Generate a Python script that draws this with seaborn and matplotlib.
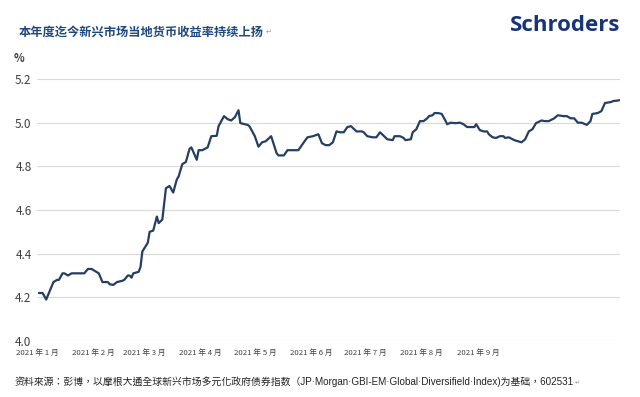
import numpy as np
import pandas as pd
import matplotlib
matplotlib.use("Agg")
import matplotlib.pyplot as plt
import seaborn as sns

# days since 2021-01-01 and local-currency EM yield (%)
day_offset = [1, 3, 5, 6, 9, 11, 12, 14, 15, 17, 19, 23, 24, 26, 28, 30, 32, 34, 36, 39,
              40, 42, 44, 47, 48, 50, 51, 52, 53, 56, 57, 58, 61, 62, 64, 66, 67, 69, 71, 73,
              75, 77, 78, 80, 82, 84, 85, 88, 89, 91, 94, 96, 99, 100, 103, 105, 107, 109, 111, 112,
              116, 117, 120, 122, 124, 126, 129, 132, 133, 136, 138, 140, 144, 147, 149, 152, 155, 157, 159, 161,
              163, 165, 167, 169, 171, 173, 176, 179, 180, 182, 185, 187, 189, 191, 193, 196, 197, 200, 202, 203,
              206, 207, 209, 211, 213, 215, 216, 218, 219, 221, 223, 224, 225, 226, 228, 230, 231, 233, 235, 237,
              240, 241, 242, 244, 246, 248, 249, 251, 253, 255, 257, 258, 260, 262, 263, 265, 267, 269, 271, 273,
              275, 278, 280, 282, 284, 285, 287, 290, 292, 294, 296, 298, 300, 302, 303, 305, 306, 309, 311, 313,
              316, 318, 319, 321]
yields = [4.22, 4.22, 4.19, 4.21, 4.27, 4.28, 4.28, 4.31, 4.31, 4.30, 4.31, 4.31, 4.31, 4.31, 4.33, 4.33, 4.32, 4.31, 4.27, 4.27,
          4.26, 4.257, 4.27, 4.276, 4.28, 4.30, 4.30, 4.29, 4.31, 4.317, 4.34, 4.41, 4.45, 4.50, 4.506, 4.57, 4.54, 4.556, 4.70, 4.71,
          4.68, 4.74, 4.754, 4.81, 4.82, 4.88, 4.887, 4.83, 4.874, 4.874, 4.887, 4.938, 4.94, 4.984, 5.03, 5.016, 5.01, 5.025, 5.057, 4.998,
          4.99, 4.984, 4.938, 4.89, 4.91, 4.915, 4.938, 4.86, 4.85, 4.85, 4.874, 4.874, 4.874, 4.91, 4.933, 4.938, 4.947, 4.906, 4.897, 4.897,
          4.91, 4.96, 4.956, 4.956, 4.98, 4.984, 4.96, 4.96, 4.956, 4.938, 4.933, 4.933, 4.956, 4.94, 4.924, 4.92, 4.938, 4.938, 4.93, 4.92,
          4.924, 4.956, 4.97, 5.007, 5.007, 5.02, 5.03, 5.034, 5.044, 5.044, 5.04, 5.025, 5.01, 4.993, 5.0, 4.998, 4.998, 5.0, 4.993, 4.98,
          4.98, 4.98, 4.993, 4.966, 4.96, 4.96, 4.947, 4.933, 4.93, 4.938, 4.938, 4.93, 4.933, 4.924, 4.92, 4.915, 4.91, 4.924, 4.96, 4.97,
          4.998, 5.01, 5.007, 5.007, 5.016, 5.02, 5.034, 5.03, 5.03, 5.02, 5.02, 5.0, 5.0, 4.993, 4.99, 5.007, 5.04, 5.044, 5.053, 5.09,
          5.094, 5.10, 5.10, 5.103]

months = [1, 2, 3, 4, 5, 6, 7, 8, 9]
month_labels = [f"2021 年 {m} 月" for m in months]
y_ticks = [4.0, 4.2, 4.4, 4.6, 4.8, 5.0, 5.2]

title = "本年度迄今新兴市场当地货币收益率持续上扬"
source = "资料來源：彭博，以摩根大通全球新兴市场多元化政府债券指数（JP·Morgan·GBI-EM·Global·Diversifield·Index)为基础，602531"

start = pd.Timestamp("2021-01-01")
df = pd.DataFrame({"date": start + pd.to_timedelta(day_offset, unit="D"), "yield": yields})

sns.set_theme(style="white")
plt.rcParams['font.family'] = ['Noto Sans CJK TC', 'DejaVu Sans']

fig = plt.figure(figsize=(6.4, 3.97), dpi=100)
ax = fig.add_axes([0.058, 0.141, 0.91, 0.66])

sns.lineplot(data=df, x="date", y="yield", ax=ax, color="#243f63", linewidth=1.6)

ax.set_ylim(4.0, 5.2)
ax.set_yticks(y_ticks)
ax.set_yticklabels([f"{t:.1f}" for t in y_ticks], fontsize=8.5, color="#404040")
ax.set_xlim(start, df["date"].iloc[-1])
ax.set_xticks([pd.Timestamp(2021, m, 1) for m in months])
ax.set_xticklabels(month_labels, fontsize=5.6, color="#404040")
ax.tick_params(axis="y", length=0, pad=4)
ax.tick_params(axis="x", length=0, pad=6)
ax.set_xlabel("")
ax.set_ylabel("")
ax.grid(axis="y", color="#d9d9d9", linewidth=0.8)
for s in ax.spines.values():
    s.set_visible(False)

fig.text(0.022, 0.845, "%", fontsize=8, color="#404040", fontweight="bold")
t = fig.text(0.03, 0.92, title, fontsize=8.8, color="#1f497d", fontweight="bold", va="center",
             family=['Noto Sans CJK SC', 'DejaVu Sans'])
ax.annotate("↵", xy=(1, 0.5), xycoords=t, xytext=(1, 0), textcoords="offset points",
            fontsize=5, color="#999999", va="center", annotation_clip=False)
fig.text(0.97, 0.935, "Schroders", fontsize=16, color="#17337a", fontweight="bold",
         ha="right", va="center", family="Open Sans")
s = fig.text(0.022, 0.038, source, fontsize=7.1, color="#222222", va="center",
             family=['Liberation Sans', 'Noto Sans CJK TC'])
ax.annotate("↵", xy=(1, 0.5), xycoords=s, xytext=(1, 0), textcoords="offset points",
            fontsize=4.5, color="#999999", va="center", annotation_clip=False)

fig.savefig("out.png", dpi=100)
